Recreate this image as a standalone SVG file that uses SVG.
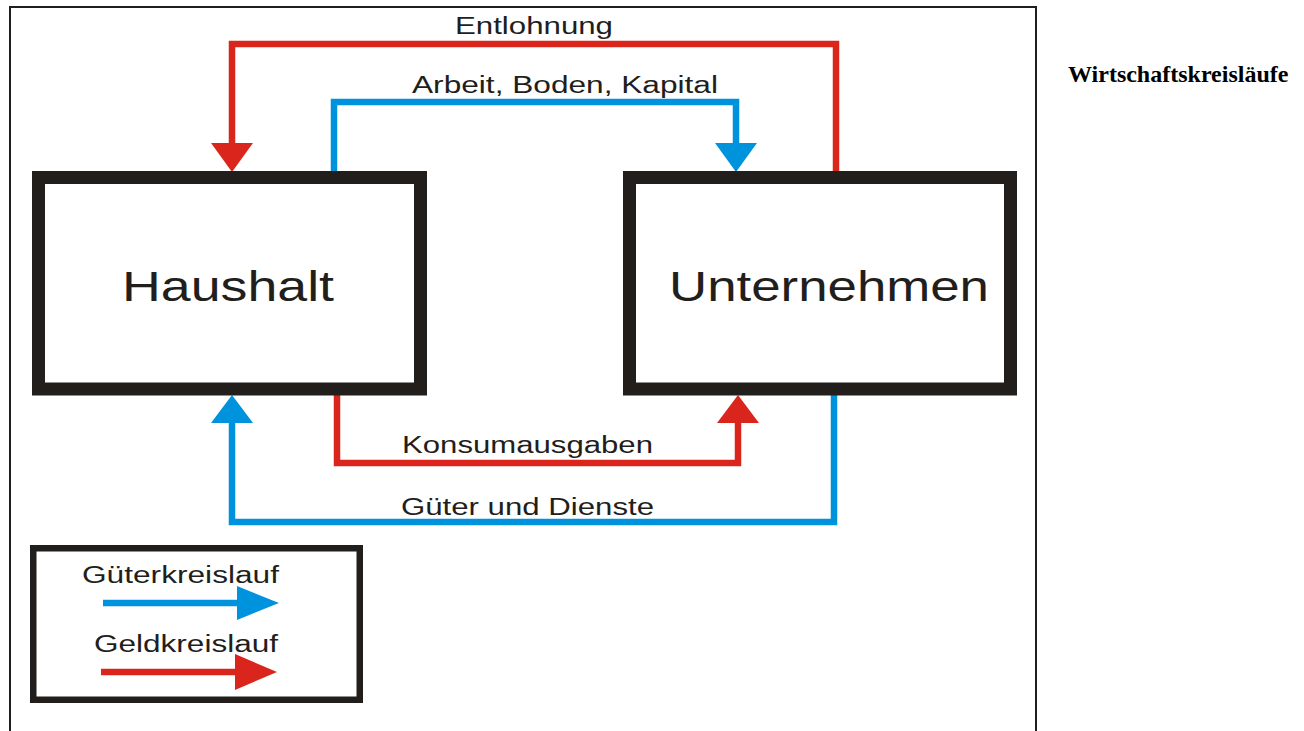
<svg xmlns="http://www.w3.org/2000/svg" width="1304" height="731" viewBox="0 0 1304 731">
<style>
.lbl{font-family:"Liberation Sans",Arial,sans-serif;fill:#221e1b}
.t23{font-size:23px}
.t42{font-size:42px}
.red{fill:none;stroke:#da251d;stroke-width:6.5}
.blue{fill:none;stroke:#0093dd;stroke-width:6.5}
.box{fill:#fff;stroke:#221e1b;stroke-width:13}
</style>
<rect width="1304" height="731" fill="#fff"/>
<path d="M10,740 V7 H1036 V740" fill="none" stroke="#221e1b" stroke-width="2"/>
<text x="1068" y="82" font-family="'Liberation Serif','Times New Roman',serif" font-size="24" font-weight="bold" fill="#000">Wirtschaftskreisläufe</text>
<g id="connectors">
  <path class="red" d="M836,172 V44 H232 V145"/>
  <polygon points="211,143 253,143 232,172" fill="#da251d"/>
  <path class="blue" d="M334,172 V102 H736 V145"/>
  <polygon points="715,143 757,143 736,172" fill="#0093dd"/>
  <path class="red" d="M337,395 V463 H738 V420"/>
  <polygon points="717,423 759,423 738,395" fill="#da251d"/>
  <path class="blue" d="M834,395 V522 H232 V420"/>
  <polygon points="211,423 253,423 232,395" fill="#0093dd"/>
  <text class="lbl t23" x="455" y="34" textLength="158" lengthAdjust="spacingAndGlyphs">Entlohnung</text>
  <text class="lbl t23" x="412" y="93" textLength="306" lengthAdjust="spacingAndGlyphs">Arbeit, Boden, Kapital</text>
  <text class="lbl t23" x="402" y="453" textLength="251" lengthAdjust="spacingAndGlyphs">Konsumausgaben</text>
  <text class="lbl t23" x="401" y="515" textLength="253" lengthAdjust="spacingAndGlyphs">Güter und Dienste</text>
</g>
<g id="haushalt">
  <rect class="box" x="38.5" y="177.5" width="382" height="211.5"/>
  <text class="lbl t42" x="122" y="301" textLength="212" lengthAdjust="spacingAndGlyphs">Haushalt</text>
</g>
<g id="unternehmen">
  <rect class="box" x="629.5" y="177.5" width="381" height="211.5"/>
  <text class="lbl t42" x="669" y="301" textLength="320" lengthAdjust="spacingAndGlyphs">Unternehmen</text>
</g>
<g id="legend">
  <rect x="33.25" y="548.25" width="326.5" height="151.5" fill="#fff" stroke="#221e1b" stroke-width="6.5"/>
  <text class="lbl t23" x="82" y="583" textLength="197" lengthAdjust="spacingAndGlyphs">Güterkreislauf</text>
  <line x1="103" y1="603" x2="240" y2="603" stroke="#0093dd" stroke-width="6.5"/>
  <polygon points="237,586 279,603 237,620" fill="#0093dd"/>
  <text class="lbl t23" x="94" y="652" textLength="184" lengthAdjust="spacingAndGlyphs">Geldkreislauf</text>
  <line x1="101" y1="672" x2="238" y2="672" stroke="#da251d" stroke-width="6.5"/>
  <polygon points="235,654 277,672 235,690" fill="#da251d"/>
</g>
</svg>
